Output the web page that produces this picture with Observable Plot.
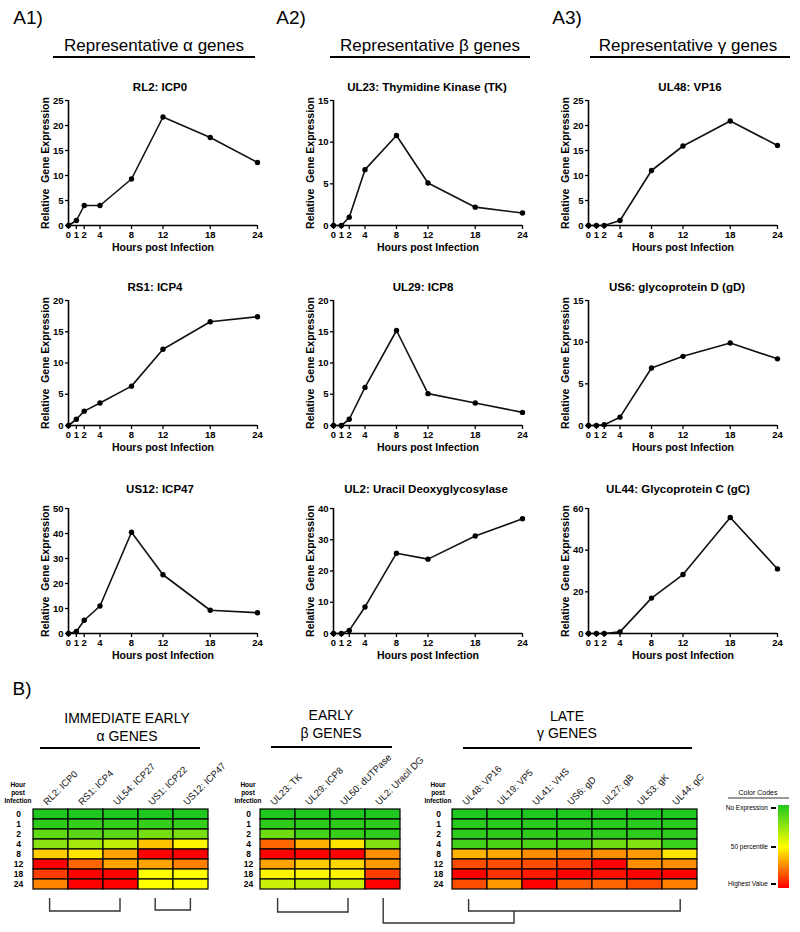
<!DOCTYPE html>
<html><head><meta charset="utf-8">
<script src="https://cdn.jsdelivr.net/npm/d3@7"></script>
<script src="https://cdn.jsdelivr.net/npm/@observablehq/plot@0.6"></script>
<style>
body{margin:0;background:#fff;}
#root{position:relative;width:800px;height:932px;font-family:"Liberation Sans",Arial,sans-serif;overflow:hidden;background:#fff;}
.t{position:absolute;white-space:nowrap;transform:translate(-50%,-50%);line-height:1;color:#000;}
.p{position:absolute;}
</style></head><body><div id="root"></div>
<script>
// ---------- data ----------
const hours = [0, 1, 2, 4, 8, 12, 18, 24];
const hourLabels = ["0", "1", "2", "4", "8", "12", "18", "24"];

// Panel A line charts (relative gene expression)
const rl2_icp0   = [0, 1.0, 4.0, 4.0, 9.3, 21.7, 17.6, 12.6];
const rs1_icp4   = [0, 1.0, 2.3, 3.6, 6.3, 12.2, 16.6, 17.4];
const us12_icp47 = [0, 0.8, 5.3, 11.0, 40.5, 23.5, 9.3, 8.3];
const ul23_tk    = [0, 0, 1.0, 6.7, 10.8, 5.1, 2.2, 1.5];
const ul29_icp8  = [0, 0, 1.0, 6.1, 15.2, 5.1, 3.6, 2.1];
const ul2_udg    = [0, 0, 1.0, 8.5, 25.7, 23.8, 31.2, 36.7];
const ul48_vp16  = [0, 0, 0, 1.0, 11.0, 15.9, 20.9, 16.0];
const us6_gd     = [0, 0, 0.1, 1.0, 6.9, 8.3, 9.9, 8.0];
const ul44_gc    = [0, 0, 0, 0.8, 17.0, 28.3, 55.7, 31.0];

const chartTitles = ["RL2: ICP0", "RS1: ICP4", "US12: ICP47",
  "UL23:  Thymidine Kinase (TK)", "UL29: ICP8", "UL2: Uracil Deoxyglycosylase",
  "UL48: VP16", "US6: glycoprotein D (gD)", "UL44: Glycoprotein C (gC)"];
const yMaxes = [25, 20, 50, 15, 20, 40, 25, 15, 60];
const ySteps = [5, 5, 10, 5, 5, 10, 5, 5, 20];

// Panel B heat maps (0 = no expression, 0.5 = 50 percentile, 1 = highest value)
const ieGenes = ["RL2: ICP0", "RS1: ICP4", "UL54: ICP27", "US1: ICP22", "US12: ICP47"];
const ieRL2  = [0, 0.03, 0.15, 0.24, 0.6, 1, 0.88, 0.74];
const ieRS1  = [0, 0.05, 0.13, 0.3, 0.55, 0.8, 1, 1];
const ieUL54 = [0, 0.05, 0.13, 0.36, 0.68, 0.68, 1, 1];
const ieUS1  = [0, 0.05, 0.2, 0.62, 1, 0.68, 0.5, 0.5];
const ieUS12 = [0, 0.05, 0.2, 0.52, 1, 0.75, 0.5, 0.5];

const eGenes = ["UL23: TK", "UL29: ICP8", "UL50: dUTPase", "UL2: Uracil DG"];
const eUL23 = [0, 0.03, 0.18, 0.8, 1, 0.68, 0.52, 0.38];
const eUL29 = [0, 0.03, 0.08, 0.65, 1, 0.6, 0.52, 0.36];
const eUL50 = [0, 0.03, 0.05, 0.55, 1, 0.58, 0.52, 0.38];
const eUL2  = [0, 0.03, 0.03, 0.22, 0.72, 0.7, 0.88, 1];

const lGenes = ["UL48: VP16", "UL19: VP5", "UL41: VHS", "US6: gD", "UL27: gB", "UL53: gK", "UL44: gC"];
const lUL48 = [0, 0.02, 0.03, 0.08, 0.65, 0.85, 1, 0.85];
const lUL19 = [0, 0.02, 0.03, 0.1, 0.67, 0.85, 0.9, 0.7];
const lUL41 = [0, 0.02, 0.03, 0.1, 0.72, 0.85, 0.95, 1];
const lUS6  = [0, 0.02, 0.03, 0.1, 0.75, 0.88, 1, 0.82];
const lUL27 = [0, 0.02, 0.03, 0.18, 0.72, 1, 0.97, 0.8];
const lUL53 = [0, 0.02, 0.03, 0.22, 0.7, 0.72, 1, 0.85];
const lUL44 = [0, 0.02, 0.03, 0.06, 0.55, 0.72, 1, 0.75];

// ---------- layout ----------
const root = document.getElementById("root");
const FONT = "Liberation Sans, Arial, sans-serif";
function text(str, x, y, css) {
  const d = document.createElement("div");
  d.className = "t";
  d.textContent = str;
  d.style.left = x + "px"; d.style.top = y + "px";
  Object.assign(d.style, css || {});
  root.appendChild(d);
  return d;
}
function place(node, left, top) {
  node.style.position = "absolute";
  node.style.left = left + "px"; node.style.top = top + "px";
  root.appendChild(node);
}

// Panel labels and section headers
text("A1)", 28, 17, {fontSize: "19px"});
text("A2)", 291, 17, {fontSize: "19px"});
text("A3)", 567, 17, {fontSize: "19px"});
text("Representative \u03b1 genes", 154, 45, {fontSize: "17px"});
text("Representative \u03b2 genes", 430, 45, {fontSize: "17px"});
text("Representative \u03b3 genes", 688, 45, {fontSize: "17px"});
text("B)", 22, 688, {fontSize: "19px"});

// Line charts
const series = [rl2_icp0, rs1_icp4, us12_icp47, ul23_tk, ul29_icp8, ul2_udg, ul48_vp16, us6_gd, ul44_gc];
const colAxisX = [68, 333, 588];
const rowTop = [100, 300, 508];
const titleY = [88, 288, 490];
const titleX = [160, 155, 160, 427, 423, 426, 690, 677, 678];
const PW = 189, PH = 125;
const ML = 45, MR = 12, MT = 8, MB = 35;

series.forEach((vals, k) => {
  const c = Math.floor(k / 3), r = k % 3;
  const data = hours.map((h, i) => ({h, v: vals[i]}));
  const yTicks = d3.range(0, yMaxes[k] + ySteps[k] / 2, ySteps[k]);
  const p = Plot.plot({
    width: ML + PW + MR, height: MT + PH + MB,
    marginLeft: ML, marginRight: MR, marginTop: MT, marginBottom: MB,
    style: {background: "transparent", overflow: "visible", fontFamily: FONT, color: "#000"},
    x: {domain: [0, 24]},
    y: {domain: [0, yMaxes[k]]},
    marks: [
      Plot.axisX({ticks: hours, tickSize: 4, tickPadding: 2, fontSize: 9.5, fontWeight: "bold",
        strokeWidth: 1.3, label: null}),
      Plot.axisY({ticks: yTicks, tickSize: 3, tickPadding: 2, fontSize: 9.5, fontWeight: "bold",
        strokeWidth: 1.3, label: null}),
      Plot.text(["Hours post Infection"], {frameAnchor: "bottom", dy: 25, fontSize: 10.5, fontWeight: "bold"}),
      Plot.text(["Relative  Gene Expression"], {frameAnchor: "left", textAnchor: "middle", dx: -23,
        rotate: -90, fontSize: 10.5, fontWeight: "bold"}),
      Plot.ruleX([0], {strokeWidth: 1.6}),
      Plot.ruleY([0], {strokeWidth: 1.6}),
      Plot.line(data, {x: "h", y: "v", strokeWidth: 1.6, stroke: "#111"}),
      Plot.dot(data, {x: "h", y: "v", r: 2.7, fill: "#000", stroke: "none"})
    ]
  });
  place(p, colAxisX[c] - ML, rowTop[r] - MT);
  text(chartTitles[k], titleX[k], titleY[r], {fontSize: "11.5px", fontWeight: "bold"});
});

// Heat maps
const G = "#1ec81e", Y = "#ffff00", R = "#ff0000";
const interp = t => t < 0.5 ? d3.interpolateRgb(G, Y)(t * 2) : d3.interpolateRgb(Y, R)((t - 0.5) * 2);
const CW = 35.2, GRID_TOP = 806, GRID_H = 85, HMT = 62;

function heat(genes, cols, gridLeft, labelX) {
  const data = [];
  genes.forEach((g, j) => hourLabels.forEach((h, i) => data.push({g, h, v: cols[j][i]})));
  const ml = gridLeft - labelX + 12;
  const p = Plot.plot({
    width: ml + genes.length * CW + 2, height: HMT + GRID_H + 2,
    marginLeft: ml, marginRight: 2, marginTop: HMT, marginBottom: 2,
    style: {background: "transparent", overflow: "visible", fontFamily: FONT, color: "#000"},
    x: {type: "band", domain: genes, padding: 0},
    y: {type: "band", domain: hourLabels, padding: 0},
    color: {type: "linear", domain: [0, 1], interpolate: interp},
    marks: [
      Plot.cell(data, {x: "g", y: "h", fill: "v", stroke: "#000", strokeWidth: 1.2, inset: 0}),
      Plot.axisX({anchor: "top", tickSize: 0, tickPadding: 3, tickRotate: -45, textAnchor: "start",
        dx: -6, fontSize: 9.5, fill: "#111", label: null}),
      Plot.axisY({tickSize: 0, tickPadding: gridLeft - labelX, textAnchor: "middle", fontSize: 8.5,
        fontWeight: "bold", label: null})
    ]
  });
  place(p, gridLeft - ml, GRID_TOP - HMT);
  text("Hour", labelX, 785, {fontSize: "6.5px", fontWeight: "bold"});
  text("post", labelX, 793, {fontSize: "6.5px", fontWeight: "bold"});
  text("Infection", labelX, 801, {fontSize: "6.5px", fontWeight: "bold"});
}
heat(ieGenes, [ieRL2, ieRS1, ieUL54, ieUS1, ieUS12], 32, 18);
heat(eGenes, [eUL23, eUL29, eUL50, eUL2], 260, 248);
heat(lGenes, [lUL48, lUL19, lUL41, lUS6, lUL27, lUL53, lUL44], 451, 438);

text("IMMEDIATE EARLY", 127, 718, {fontSize: "14px"});
text("\u03b1 GENES", 127, 736, {fontSize: "14px"});
text("EARLY", 331, 715, {fontSize: "14px"});
text("\u03b2 GENES", 331, 733, {fontSize: "14px"});
text("LATE", 567, 716, {fontSize: "14px"});
text("\u03b3 GENES", 567, 733, {fontSize: "14px"});

// Color code legend
text("Color Codes", 758, 792, {fontSize: "7px"});
const bar = document.createElement("div");
Object.assign(bar.style, {position: "absolute", left: "778px", top: "805px", width: "11px", height: "83px",
  background: `linear-gradient(to bottom, ${G}, ${Y}, ${R})`});
root.appendChild(bar);
[["No Expression", 808], ["50 percentile", 847], ["Highest Value", 884]].forEach(([s, y]) => {
  text(s, 768, y, {fontSize: "6.5px", transform: "translate(-100%,-50%)"});
  const m = document.createElement("div");
  Object.assign(m.style, {position: "absolute", left: "771px", top: (y - 1) + "px", width: "5px", height: "2px", background: "#000"});
  root.appendChild(m);
});

// Decorative rules and brackets
const ns = "http://www.w3.org/2000/svg";
const deco = document.createElementNS(ns, "svg");
deco.setAttribute("width", 800); deco.setAttribute("height", 932);
Object.assign(deco.style, {position: "absolute", left: 0, top: 0, pointerEvents: "none"});
const lines = [
  {pts: [[53, 57], [255, 57]], w: 2},
  {pts: [[330, 57], [530, 57]], w: 2},
  {pts: [[590, 57], [790, 57]], w: 2},
  {pts: [[40, 748], [200, 748]], w: 2},
  {pts: [[271, 747], [392, 747]], w: 2},
  {pts: [[463, 748], [692, 748]], w: 2},
  {pts: [[728, 798], [789, 798]], w: 1},
  {pts: [[49.6, 898], [49.6, 911], [120, 911], [120, 898]], w: 1.4},
  {pts: [[155.2, 898], [155.2, 910], [190.4, 910], [190.4, 898]], w: 1.4},
  {pts: [[277.6, 898], [277.6, 912], [348, 912], [348, 898]], w: 1.4},
  {pts: [[468.6, 899], [468.6, 911], [680.2, 911], [680.2, 899]], w: 1.4},
  {pts: [[383.2, 898], [383.2, 923], [514, 923], [514, 911]], w: 1.4}
];
lines.forEach(l => {
  const pl = document.createElementNS(ns, "polyline");
  pl.setAttribute("points", l.pts.map(p => p.join(",")).join(" "));
  pl.setAttribute("fill", "none");
  pl.setAttribute("stroke", l.w >= 2 ? "#000" : "#333");
  pl.setAttribute("stroke-width", l.w);
  deco.appendChild(pl);
});
root.appendChild(deco);
</script>
</body></html>
